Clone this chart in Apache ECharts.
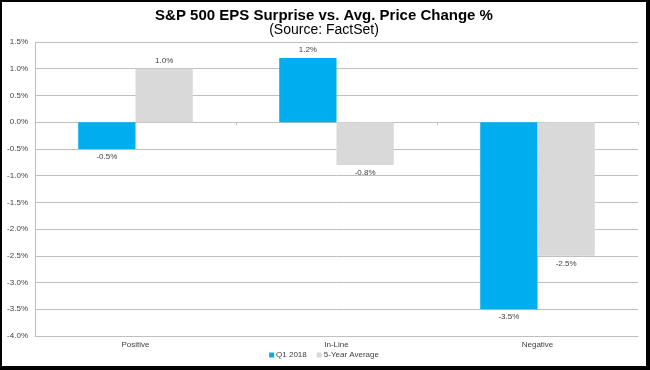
<!DOCTYPE html>
<html>
<head>
<meta charset="utf-8">
<script src="https://cdn.jsdelivr.net/npm/echarts@6/dist/echarts.min.js"></script>
<style>
html,body{margin:0;padding:0;background:#000;width:650px;height:370px;overflow:hidden;}
#chart{position:absolute;left:2px;top:2px;width:644px;height:364px;background:#fff;}
</style>
</head>
<body>
<div id="chart"></div>
<script>
const categories = ['Positive', 'In-Line', 'Negative'];
const q1_2018 = [-0.5, 1.2, -3.5];
const fiveYearAvg = [1.0, -0.8, -2.5];
const seriesNames = ['Q1 2018', '5-Year Average'];
const yMin = -4.0, yMax = 1.5, yStep = 0.5;

const pct = v => Number(v).toFixed(1) + '%';
const labelled = arr => arr.map(v => ({ value: v, label: { position: v >= 0 ? 'top' : 'bottom' } }));

const chart = echarts.init(document.getElementById('chart'), null, { renderer: 'canvas' });
const font = 'Arial, "Liberation Sans", sans-serif';
chart.setOption({
  animation: false,
  textStyle: { fontFamily: font },
  title: [
    { text: 'S&P 500 EPS Surprise vs. Avg. Price Change %', left: 'center', top: 6, padding: 0,
      textStyle: { fontFamily: font, fontSize: 15, fontWeight: 'bold', color: '#000' } },
    { text: '(Source: FactSet)', left: 'center', top: 21, padding: 0,
      textStyle: { fontFamily: font, fontSize: 14, fontWeight: 'normal', color: '#000' } }
  ],
  legend: {
    top: 349, left: 'center', padding: 0, icon: 'rect', itemWidth: 5, itemHeight: 5, itemGap: 10,
    textStyle: { fontSize: 8, color: '#404040', fontFamily: font, padding: [0, 0, 0, -3] },
    data: seriesNames
  },
  grid: { left: 33, right: 8, top: 40, bottom: 30 },
  xAxis: [
    { type: 'category', data: categories, position: 'bottom',
      axisLine: { onZero: false, lineStyle: { color: '#BFBFBF' } },
      axisTick: { show: false },
      axisLabel: { fontSize: 8, color: '#404040', margin: 5, fontFamily: font } },
    { type: 'category', data: categories,
      axisLine: { show: true, onZero: true, lineStyle: { color: '#BFBFBF' } },
      axisTick: { show: true, inside: true, length: 3, lineStyle: { color: '#BFBFBF' } },
      axisLabel: { show: false } }
  ],
  yAxis: {
    type: 'value', min: yMin, max: yMax, interval: yStep,
    axisLine: { show: true, lineStyle: { color: '#BFBFBF' } },
    axisTick: { show: false },
    splitLine: { lineStyle: { color: '#BFBFBF', width: 1 } },
    axisLabel: { fontSize: 8, color: '#404040', margin: 7, formatter: v => pct(v), fontFamily: font }
  },
  series: [
    { name: seriesNames[0], type: 'bar', data: labelled(q1_2018), barGap: '0%', barCategoryGap: '43%',
      itemStyle: { color: '#00AEEF' },
      label: { show: true, fontSize: 8, color: '#404040', distance: 4, formatter: p => pct(p.value) } },
    { name: seriesNames[1], type: 'bar', data: labelled(fiveYearAvg), barGap: '0%', barCategoryGap: '43%',
      itemStyle: { color: '#D9D9D9' },
      label: { show: true, fontSize: 8, color: '#404040', distance: 4, formatter: p => pct(p.value) } }
  ]
});
</script>
</body>
</html>
